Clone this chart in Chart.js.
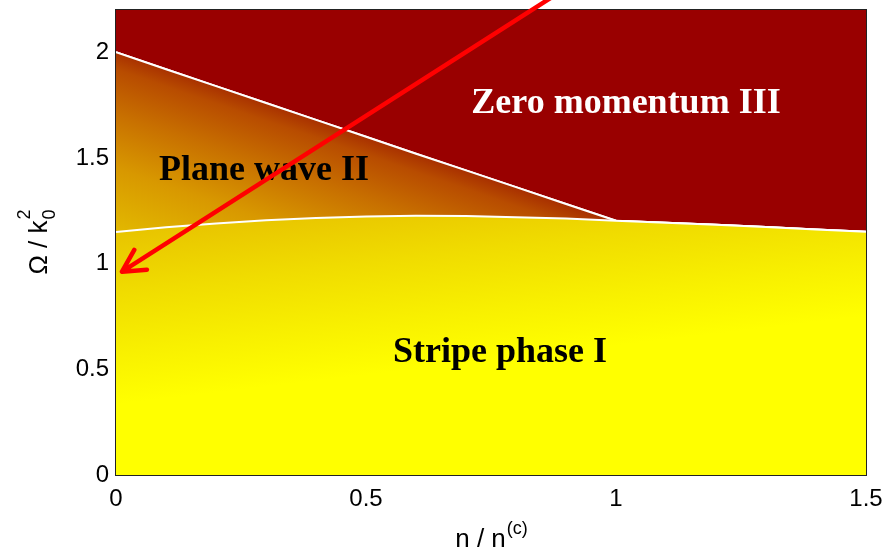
<!DOCTYPE html>
<html>
<head>
<meta charset="utf-8">
<script src="https://cdn.jsdelivr.net/npm/chart.js@4.4.0/dist/chart.umd.min.js"></script>
<style>
html,body{margin:0;padding:0;background:#fff;}
</style>
</head>
<body>
<canvas id="phaseChart" width="885" height="555"></canvas>
<script>
// n / n(c) grid
const nValues = [0, 0.1, 0.2, 0.3, 0.4, 0.5, 0.6, 0.7, 0.8, 0.9, 1.0, 1.1, 1.2, 1.3, 1.4, 1.5];
// boundary stripe I / the rest
const boundaryI = [1.150, 1.172, 1.190, 1.205, 1.216, 1.223, 1.226, 1.225, 1.220, 1.213, 1.203, 1.194, 1.184, 1.173, 1.162, 1.151];
// boundary plane wave II / zero momentum III (joins boundaryI past n=1)
const boundaryII = [2.000, 1.920, 1.840, 1.760, 1.680, 1.600, 1.520, 1.441, 1.362, 1.282, 1.203, 1.194, 1.184, 1.173, 1.162, 1.151];

const xTicks = [0, 0.5, 1, 1.5];
const yTicks = [0, 0.5, 1, 1.5, 2];

const phaseNames = ['Stripe phase I', 'Plane wave II', 'Zero momentum III'];
const phaseN = [0.768, 0.296, 1.02];
const phaseOmega = [0.58, 1.44, 1.755];
const phaseTextColors = ['#000000', '#000000', '#ffffff'];

const arrowN = [0.868, 0.012];
const arrowOmega = [2.255, 0.962];

Chart.defaults.font.family = '"Liberation Sans", Arial, sans-serif';
Chart.defaults.color = '#000';

function yellowFill(context){
    const chart = context.chart;
    const {ctx, chartArea, scales} = chart;
    if (!chartArea) return '#ffff00';
    const x0 = scales.x.getPixelForValue(0), y0 = scales.y.getPixelForValue(1.15);
    const g = ctx.createLinearGradient(x0, y0, x0 + 20, y0 + 170);
    g.addColorStop(0, '#e8c400');
    g.addColorStop(0.35, '#f0dc00');
    g.addColorStop(0.7, '#f8f000');
    g.addColorStop(1, '#ffff00');
    return g;
}

function orangeFill(context){
    const chart = context.chart;
    const {ctx, chartArea, scales} = chart;
    if (!chartArea) return '#d08800';
    const xs = scales.x.getPixelForValue(0.5), ys = scales.y.getPixelForValue(1.6);
    const g = ctx.createLinearGradient(xs, ys, xs - 55, ys + 161);
    g.addColorStop(0, '#a83000');
    g.addColorStop(0.1, '#b84c00');
    g.addColorStop(0.35, '#c87000');
    g.addColorStop(0.65, '#d89800');
    g.addColorStop(1, '#e2b800');
    return g;
}

function noPadding(s){
    s.paddingLeft = 0;
    s.paddingRight = 0;
    s.paddingTop = 0;
    s.paddingBottom = 0;
}

const decorations = {
    id: 'decorations',
    afterDatasetsDraw(chart){
        const {ctx, chartArea, scales} = chart;
        const sx = scales.x, sy = scales.y;
        ctx.save();
        // phase names
        ctx.font = 'bold 36px "Liberation Serif", "Times New Roman", serif';
        ctx.textAlign = 'center';
        ctx.textBaseline = 'middle';
        for (let i = 0; i < phaseNames.length; i++) {
            ctx.fillStyle = phaseTextColors[i];
            ctx.fillText(phaseNames[i], sx.getPixelForValue(phaseN[i]), sy.getPixelForValue(phaseOmega[i]));
        }
        // frame
        ctx.strokeStyle = '#222';
        ctx.lineWidth = 1;
        ctx.strokeRect(chartArea.left - 0.5, chartArea.top - 0.5, chartArea.right - chartArea.left + 1, chartArea.bottom - chartArea.top + 1);
        // arrow
        const x1 = sx.getPixelForValue(arrowN[0]), y1 = sy.getPixelForValue(arrowOmega[0]);
        const x2 = sx.getPixelForValue(arrowN[1]), y2 = sy.getPixelForValue(arrowOmega[1]);
        const ang = Math.atan2(y1 - y2, x1 - x2);
        ctx.strokeStyle = '#ff0000';
        ctx.lineWidth = 4.5;
        ctx.lineCap = 'round';
        ctx.lineJoin = 'round';
        ctx.beginPath();
        ctx.moveTo(x1, y1);
        ctx.lineTo(x2, y2);
        const len = 25, spread = 28 * Math.PI / 180;
        ctx.moveTo(x2 + len * Math.cos(ang - spread), y2 + len * Math.sin(ang - spread));
        ctx.lineTo(x2, y2);
        ctx.lineTo(x2 + len * Math.cos(ang + spread), y2 + len * Math.sin(ang + spread));
        ctx.stroke();
        ctx.restore();

        // axis titles
        ctx.save();
        ctx.fillStyle = '#000';
        ctx.textBaseline = 'alphabetic';
        ctx.textAlign = 'left';
        const big = '26px "Liberation Sans", Arial, sans-serif';
        const small = '18px "Liberation Sans", Arial, sans-serif';
        // x title: n / n^(c)
        ctx.font = big;
        const wMain = ctx.measureText('n / n').width;
        ctx.font = small;
        const wSup = ctx.measureText('(c)').width;
        const cx = (chartArea.left + chartArea.right) / 2;
        let tx = cx - (wMain + wSup) / 2;
        ctx.font = big;
        ctx.fillText('n / n', tx, 547);
        ctx.font = small;
        ctx.fillText('(c)', tx + wMain + 1, 534);
        // y title: Omega / k_0^2
        ctx.translate(47, (chartArea.top + chartArea.bottom) / 2);
        ctx.rotate(-Math.PI / 2);
        ctx.font = big;
        const wy = ctx.measureText('\u03A9 / k').width;
        ctx.font = small;
        const ws = ctx.measureText('2').width;
        tx = -(wy + ws) / 2;
        ctx.font = big;
        ctx.fillText('\u03A9 / k', tx, 0);
        ctx.font = small;
        ctx.fillText('2', tx + wy + 1, -17);
        ctx.fillText('0', tx + wy + 1, 8);
        ctx.restore();
    }
};

const chart = new Chart(document.getElementById('phaseChart'), {
    type: 'line',
    data: {
        datasets: [
            {
                label: 'boundary I',
                data: nValues.map((n, i) => ({x: n, y: boundaryI[i]})),
                borderColor: '#ffffff',
                borderWidth: 2,
                backgroundColor: yellowFill,
                fill: 'origin',
                pointRadius: 0,
                tension: 0
            },
            {
                label: 'boundary II',
                data: nValues.map((n, i) => ({x: n, y: boundaryII[i]})),
                borderColor: '#ffffff',
                borderWidth: 2,
                backgroundColor: orangeFill,
                fill: 0,
                pointRadius: 0,
                tension: 0
            },
            {
                label: 'zero momentum',
                data: nValues.map((n, i) => ({x: n, y: boundaryII[i]})),
                borderColor: '#ffffff',
                borderWidth: 2,
                backgroundColor: '#990000',
                fill: 'end',
                pointRadius: 0,
                tension: 0
            }
        ]
    },
    options: {
        responsive: false,
        animation: false,
        layout: {padding: {top: 10, right: 19, left: 0, bottom: 0}},
        plugins: {legend: {display: false}, tooltip: {enabled: false}},
        scales: {
            x: {
                type: 'linear',
                min: 0,
                max: 1.5,
                afterBuildTicks: s => { s.ticks = xTicks.map(v => ({value: v})); },
                afterFit: s => { s.height = 80; noPadding(s); },
                grid: {display: false, drawTicks: false},
                border: {display: false},
                ticks: {font: {size: 24}, padding: 10, maxRotation: 0, callback: v => String(v)}
            },
            y: {
                type: 'linear',
                min: 0,
                max: 2.2,
                afterBuildTicks: s => { s.ticks = yTicks.map(v => ({value: v})); },
                afterFit: s => { s.width = 116; noPadding(s); },
                grid: {display: false, drawTicks: false},
                border: {display: false},
                ticks: {font: {size: 24}, padding: 7, callback: v => String(v)}
            }
        }
    },
    plugins: [decorations]
});
</script>
</body>
</html>
